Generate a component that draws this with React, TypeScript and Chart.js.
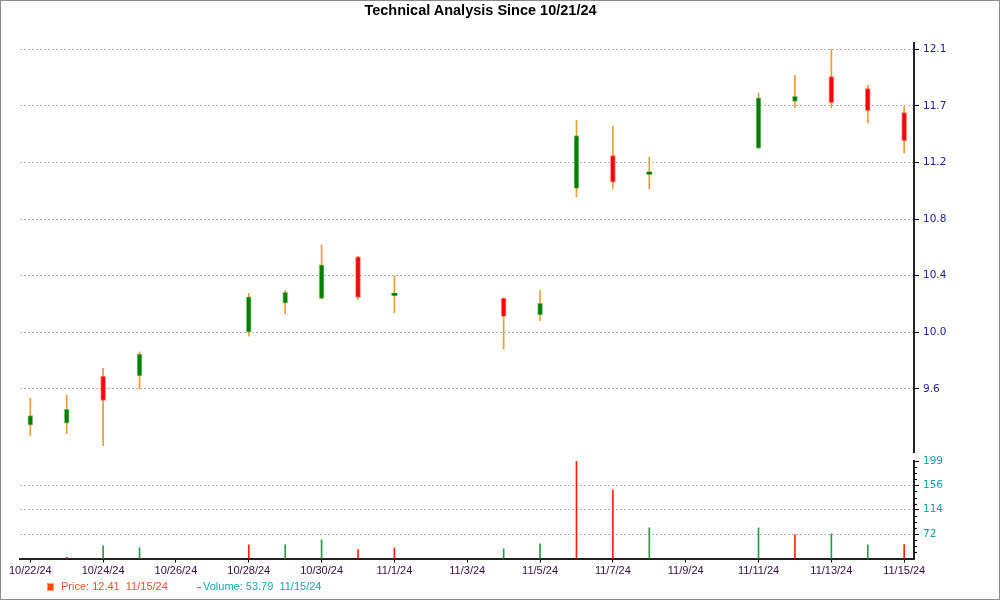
import React, { useEffect, useRef } from 'react';
import { Chart, registerables } from 'chart.js';

Chart.register(...registerables);

// ---- data ----
const DAYS = [0, 1, 2, 3, 6, 7, 8, 9, 10, 13, 14, 15, 16, 17, 20, 21, 22, 23, 24];
const DATES = ['10/22/24', '10/23/24', '10/24/24', '10/25/24', '10/28/24', '10/29/24', '10/30/24', '10/31/24', '11/1/24', '11/4/24', '11/5/24', '11/6/24', '11/7/24', '11/8/24', '11/11/24', '11/12/24', '11/13/24', '11/14/24', '11/15/24'];
const OPEN = [9.337, 9.352, 9.692, 9.694, 10.012, 10.222, 10.256, 10.557, 10.278, 10.256, 10.137, 11.052, 11.291, 11.156, 11.344, 11.682, 11.862, 11.776, 11.602];
const HIGH = [9.533, 9.556, 9.75, 9.868, 10.292, 10.314, 10.642, 10.56, 10.42, 10.26, 10.316, 11.546, 11.503, 11.279, 11.744, 11.872, 12.058, 11.8, 11.645];
const LOW = [9.262, 9.276, 9.19, 9.598, 9.983, 10.145, 10.25, 10.246, 10.152, 9.889, 10.094, 10.991, 11.049, 11.049, 11.34, 11.635, 11.635, 11.527, 11.31];
const CLOSE = [9.407, 9.453, 9.518, 9.853, 10.268, 10.3, 10.499, 10.263, 10.278, 10.126, 10.22, 11.436, 11.098, 11.156, 11.708, 11.72, 11.674, 11.616, 11.399];
const VOLUME = [29, 31.5, 51.5, 48, 53.3, 53.3, 62, 45.1, 48, 46.3, 55, 199, 148.8, 82.8, 82.8, 70.6, 72.4, 53.3, 53.79];
const VOLUME_UP = [true, false, true, true, false, true, true, false, false, true, true, false, false, true, true, false, true, true, false];

const X_TICK_DAYS = [0, 2, 4, 6, 8, 10, 12, 14, 16, 18, 20, 22, 24];
const X_TICK_LABELS = ['10/22/24', '10/24/24', '10/26/24', '10/28/24', '10/30/24', '11/1/24', '11/3/24', '11/5/24', '11/7/24', '11/9/24', '11/11/24', '11/13/24', '11/15/24'];
const PRICE_TICKS = [9.6, 10.01, 10.42, 10.83, 11.24, 11.65, 12.06];
const PRICE_TICK_LABELS = ['9.6', '10.0', '10.4', '10.8', '11.2', '11.7', '12.1'];
const VOLUME_TICKS = [72, 114.33, 156.67, 199];
const VOLUME_TICK_LABELS = ['72', '114', '156', '199'];

const TITLE = 'Technical Analysis Since 10/21/24';
const LAST_PRICE = '12.41';
const LAST_VOLUME = '53.79';

// ---- axis ranges ----
const X_MIN = -0.283;
const X_MAX = 24.27;
const PRICE_MIN = 9.1436;
const PRICE_MAX = 12.1056;
const VOL_MIN = 29.667;
const VOL_MAX = 199;

const FONT_AXIS = 'DejaVu Sans';
const FONT_TEXT = "'Liberation Sans', Arial, sans-serif";

const minorTicksPlugin = {
  id: 'minorTicks',
  afterDraw(chart: any) {
    const s = chart.scales.y;
    if (!s) return;
    const ctx = chart.ctx;
    const step = (VOLUME_TICKS[1] - VOLUME_TICKS[0]) / 4;
    ctx.save();
    ctx.strokeStyle = '#000';
    ctx.lineWidth = 1;
    for (let k = 1; k < 16; k++) {
      if (k % 4 === 0) continue;
      const v = VOL_MIN + k * step;
      const y = Math.round(s.getPixelForValue(v)) + 0.5;
      ctx.beginPath();
      ctx.moveTo(s.left, y);
      ctx.lineTo(s.left + 3, y);
      ctx.stroke();
    }
    ctx.restore();
  },
};

export default function App() {
  const priceRef = useRef<HTMLCanvasElement>(null);
  const volRef = useRef<HTMLCanvasElement>(null);

  useEffect(() => {
    const up = (i: number) => CLOSE[i] >= OPEN[i];
    const priceChart = new Chart(priceRef.current as HTMLCanvasElement, {
      type: 'bar',
      data: {
        datasets: [
          {
            label: 'body',
            data: DAYS.map((d, i) => ({ x: d, y: [OPEN[i], CLOSE[i]] })) as any,
            backgroundColor: (c: any) => (up(c.dataIndex) ? '#008000' : '#ff0000'),
            borderColor: (c: any) => (up(c.dataIndex) ? 'rgba(0,128,0,0.45)' : 'rgba(255,0,0,0.45)'),
            borderWidth: (c: any) => (OPEN[c.dataIndex] === CLOSE[c.dataIndex] ? 0 : 1),
            borderSkipped: false,
            barThickness: 5,
            minBarLength: 2,
            grouped: false,
            order: 0,
          } as any,
          {
            label: 'wick',
            data: DAYS.map((d, i) => ({ x: d, y: [LOW[i], HIGH[i]] })) as any,
            backgroundColor: '#f39c30',
            borderWidth: 0,
            barThickness: 1,
            grouped: false,
            order: 1,
          } as any,
        ],
      },
      options: {
        animation: false,
        responsive: false,
        maintainAspectRatio: false,
        layout: { padding: { left: 20, top: 43, right: 0, bottom: 12 } },
        plugins: { legend: { display: false }, tooltip: { enabled: false }, title: { display: false } },
        scales: {
          x: { type: 'linear', min: X_MIN, max: X_MAX, display: false, offset: false, grid: { offset: false } },
          y: {
            type: 'linear',
            position: 'right',
            min: PRICE_MIN,
            max: PRICE_MAX,
            afterFit: (s: any) => { s.width = 86; },
            afterBuildTicks: (s: any) => { s.ticks = PRICE_TICKS.map((v) => ({ value: v })); },
            ticks: {
              callback: (_v: any, i: number) => PRICE_TICK_LABELS[i],
              color: '#2020a0',
              font: { family: FONT_AXIS, size: 10.5 },
              padding: 4,
            },
            grid: { color: '#b4b4b4', lineWidth: 1, tickLength: 5, tickColor: '#000', tickBorderDash: [] },
            border: { display: true, color: '#222', width: 2, dash: [2, 2] },
          } as any,
        },
      } as any,
    });

    const volChart = new Chart(volRef.current as HTMLCanvasElement, {
      type: 'bar',
      data: {
        datasets: [
          {
            label: 'volume',
            data: DAYS.map((d, i) => ({ x: d, y: VOLUME[i] })) as any,
            backgroundColor: (c: any) => (VOLUME_UP[c.dataIndex] ? '#20a040' : '#ff2200'),
            borderWidth: 0,
            barThickness: 1,
            grouped: false,
          } as any,
        ],
      },
      options: {
        animation: false,
        responsive: false,
        maintainAspectRatio: false,
        layout: { padding: { left: 20, top: 21, right: 0, bottom: 0 } },
        plugins: { legend: { display: false }, tooltip: { enabled: false }, title: { display: false } },
        scales: {
          x: {
            type: 'linear',
            position: 'bottom',
            min: X_MIN,
            max: X_MAX,
            offset: false,
            afterFit: (s: any) => { s.height = 41.5; },
            afterBuildTicks: (s: any) => { s.ticks = X_TICK_DAYS.map((v) => ({ value: v })); },
            ticks: {
              callback: (_v: any, i: number) => X_TICK_LABELS[i],
              color: '#3a0a45',
              font: { family: FONT_TEXT, size: 11 },
              padding: 2,
              maxRotation: 0,
              minRotation: 0,
              autoSkip: false,
            },
            grid: { drawOnChartArea: false, tickLength: 4, tickColor: '#000', offset: false },
            border: { display: true, color: '#222', width: 2 },
          } as any,
          y: {
            type: 'linear',
            position: 'right',
            min: VOL_MIN,
            max: VOL_MAX,
            afterFit: (s: any) => { s.width = 86; },
            afterBuildTicks: (s: any) => { s.ticks = VOLUME_TICKS.map((v) => ({ value: v })); },
            ticks: {
              callback: (_v: any, i: number) => VOLUME_TICK_LABELS[i],
              color: '#10a0b0',
              font: { family: FONT_AXIS, size: 10.5 },
              padding: 4,
            },
            grid: {
              color: (c: any) => (c.tick && c.tick.value < VOL_MAX - 0.01 ? '#b4b4b4' : 'rgba(0,0,0,0)'),
              lineWidth: 1,
              tickLength: 5,
              tickColor: '#000',
              tickBorderDash: [],
            },
            border: { display: true, color: '#222', width: 2, dash: [2, 2] },
          } as any,
        },
      } as any,
      plugins: [minorTicksPlugin as any],
    });

    return () => {
      priceChart.destroy();
      volChart.destroy();
    };
  }, []);

  const lastIdx = DATES.length - 1;

  return (
    <div style={{ position: 'absolute', left: 0, top: 0, width: 1000, height: 600, background: '#fff', overflow: 'hidden' }}>
      <canvas
        ref={volRef}
        width={1000}
        height={160}
        style={{ position: 'absolute', left: 0, top: 440, width: 1000, height: 160, display: 'block' }}
      />
      <canvas
        ref={priceRef}
        width={1000}
        height={464}
        style={{ position: 'absolute', left: 0, top: 0, width: 1000, height: 464, display: 'block' }}
      />
      <div
        style={{
          position: 'absolute', left: 0, top: 0, width: 961, textAlign: 'center',
          font: `bold 14.5px ${FONT_TEXT}`, lineHeight: '20px', color: '#000',
        }}
      >
        {TITLE}
      </div>
      <div
        style={{
          position: 'absolute', left: 47, top: 583, width: 7, height: 8, boxSizing: 'border-box',
          background: '#ff4500', border: '1px solid #ff9c7a',
        }}
      />
      <div
        style={{
          position: 'absolute', left: 61, top: 580, lineHeight: '14px', font: `11px ${FONT_TEXT}`,
          color: '#ff4d26', whiteSpace: 'pre',
        }}
      >
        {`Price: ${LAST_PRICE}  ${DATES[lastIdx]}`}
      </div>
      <div style={{ position: 'absolute', left: 197, top: 587, width: 4, height: 1, background: '#10a8b8' }} />
      <div
        style={{
          position: 'absolute', left: 203, top: 580, lineHeight: '14px', font: `11px ${FONT_TEXT}`,
          color: '#10a8b8', whiteSpace: 'pre',
        }}
      >
        {`Volume: ${LAST_VOLUME}  ${DATES[lastIdx]}`}
      </div>
      <div
        style={{
          position: 'absolute', left: 0, top: 0, width: 1000, height: 600, boxSizing: 'border-box',
          border: '1px solid #8a8a8a', pointerEvents: 'none',
        }}
      />
    </div>
  );
}
